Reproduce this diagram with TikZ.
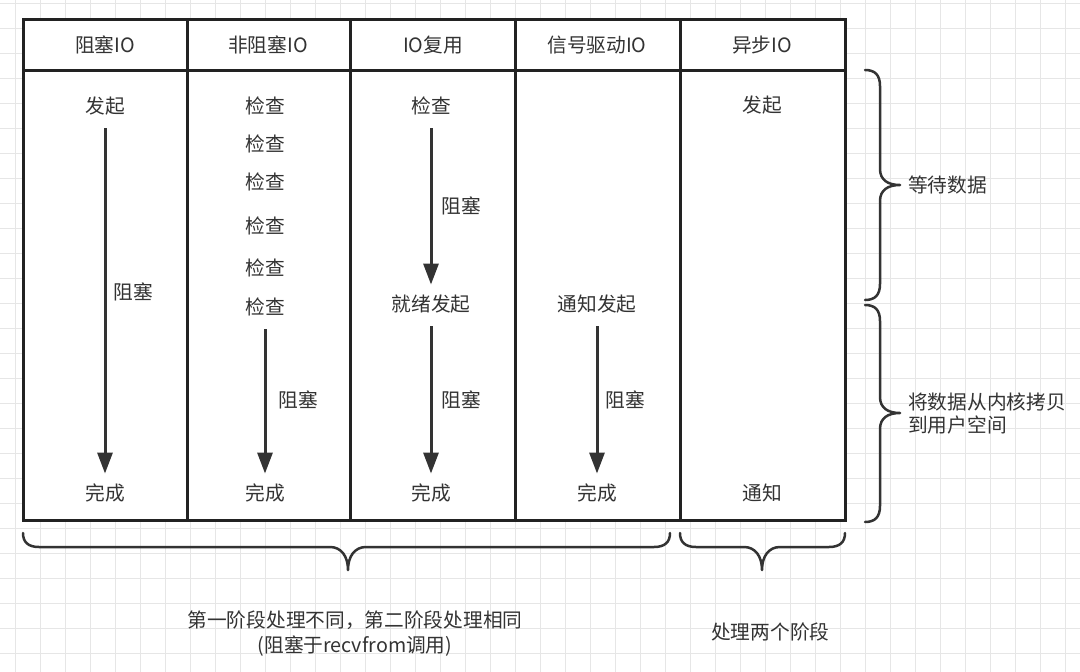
\documentclass[tikz,border=0pt]{standalone}
\usepackage{fontspec}
\setmainfont{Noto Sans CJK SC}
\usetikzlibrary{arrows.meta}
\definecolor{ink}{HTML}{333333}
\definecolor{frame}{HTML}{222222}
\definecolor{gridc}{HTML}{E6E6E6}
\tikzset{
  lbl/.style={inner sep=0pt,text height=16pt,text depth=2.5pt,text=ink,font=\fontsize{19.7}{23}\selectfont},
  flow/.style={line width=3pt,draw=ink,-{Triangle[width=15pt,length=21pt]},shorten <=12pt,shorten >=11pt},
  brc/.style={line width=2.5pt,draw=ink,line cap=round,line join=round},
  cell/.style={draw=frame,line width=3pt}
}
\begin{document}
\begin{tikzpicture}[x=1pt,y=-1pt]
\useasboundingbox (0,0) rectangle (1080,672);
% grid paper
\foreach \x in {15,40,...,1065}{\draw[gridc,line width=1pt] (\x,0)--(\x,672);}
\foreach \y in {3,28,...,653}{\draw[gridc,line width=1pt] (0,\y)--(1080,\y);}
% table
\draw[cell,fill=white] (23,19) rectangle (845,520);
\draw[cell] (23,70)--(845,70);
\foreach \x in {187,350,515,680}{\draw[cell] (\x,19)--(\x,520);}
\foreach \x/\t/\n in {105/阻塞IO/h1,268/非阻塞IO/h2,433/IO复用/h3,597/信号驱动IO/h4,762/异步IO/h5}{
\node[lbl] (\n) at (\x,46) {\t};}
% blocking
\node[lbl] (a1) at (105,107) {发起};
\node[lbl] (a2) at (105,494) {完成};
\node[lbl] (a3) at (133,293) {阻塞};
\draw[flow] (a1)--(a2);
% non-blocking
\foreach \y [count=\i] in {107,145,183,227,269,308}{\node[lbl] (b\i) at (265,\y) {检查};}
\node[lbl] (b7) at (265,494) {完成};
\node[lbl] (b8) at (298,401) {阻塞};
\draw[flow] (b6)--(b7);
% multiplexing
\node[lbl] (c1) at (431,107) {检查};
\node[lbl] (c2) at (431,305) {就绪发起};
\node[lbl] (c3) at (431,494) {完成};
\node[lbl] (c4) at (461,207) {阻塞};
\node[lbl] (c5) at (461,401) {阻塞};
\draw[flow] (c1)--(c2); \draw[flow] (c2)--(c3);
% signal driven
\node[lbl] (d1) at (597,305) {通知发起};
\node[lbl] (d2) at (597,494) {完成};
\node[lbl] (d3) at (625,401) {阻塞};
\draw[flow] (d1)--(d2);
% async
\node[lbl] (e1) at (762,106) {发起};
\node[lbl] (e2) at (762,494) {通知};
% braces
\draw[brc] (865,70) .. controls (875,70) and (880,75) .. (880,86) -- (880,169) .. controls (880,180) and (888,185) .. (900,185) .. controls (888,185) and (880,190) .. (880,201) -- (880,284) .. controls (880,295) and (875,300) .. (865,300);
\draw[brc] (865,305) .. controls (875,305) and (880,310) .. (880,321) -- (880,397) .. controls (880,408) and (888,413) .. (900,413) .. controls (888,413) and (880,418) .. (880,429) -- (880,506) .. controls (880,517) and (875,522) .. (865,522);
\draw[brc] (23,533) .. controls (23,542) and (28,547) .. (39,547) -- (330,547) .. controls (341,547) and (348,556) .. (348,570) .. controls (348,556) and (355,547) .. (366,547) -- (654,547) .. controls (665,547) and (670,542) .. (670,533);
\draw[brc] (680,533) .. controls (680,542) and (685,547) .. (696,547) -- (744,547) .. controls (755,547) and (762,556) .. (762,570) .. controls (762,556) and (769,547) .. (780,547) -- (829,547) .. controls (840,547) and (845,542) .. (845,533);
\node[lbl,anchor=west] (w1) at (908,186) {等待数据};
\node[lbl,anchor=west] (w2) at (908,403) {将数据从内核拷贝};
\node[lbl,anchor=west] (w3) at (908,426) {到用户空间};
\node[lbl] (s1) at (355,621) {第一阶段处理不同，第二阶段处理相同};
\node[lbl] (s2) at (355,646) {(阻塞于recvfrom调用)};
\node[lbl,anchor=west] (s3) at (711,633) {处理两个阶段};
\end{tikzpicture}
\end{document}
